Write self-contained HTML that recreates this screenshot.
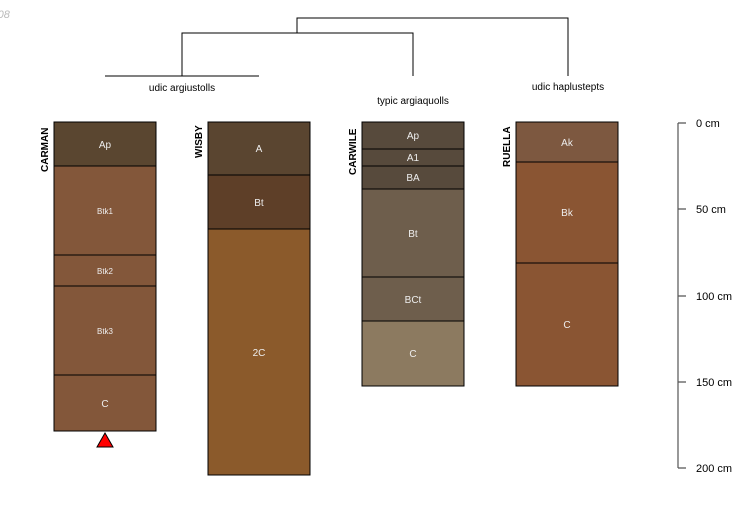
<!DOCTYPE html>
<html><head><style>body{margin:0;background:#fff}</style></head><body>
<svg width="750" height="500" xmlns="http://www.w3.org/2000/svg" font-family="Liberation Sans, sans-serif">
<text x="-6" y="18" font-size="11" fill="#bbb" font-style="italic">-08</text>
<g stroke="#000" stroke-width="1" fill="none">
<path d="M297 33V18H568V76"/>
<path d="M182 76V33H413V76"/>
<path d="M105 76H259"/>
</g>
<g font-size="10" fill="#000" text-anchor="middle">
<text x="182" y="91">udic argiustolls</text>
<text x="413" y="104">typic argiaquolls</text>
<text x="568" y="90">udic haplustepts</text>
</g>
<g stroke="#000" stroke-width="1">
<rect x="54" y="122" width="102" height="44" fill="#5a4630"/>
<rect x="54" y="166" width="102" height="89" fill="#83573a"/>
<rect x="54" y="255" width="102" height="31" fill="#83573a"/>
<rect x="54" y="286" width="102" height="89" fill="#83573a"/>
<rect x="54" y="375" width="102" height="56" fill="#83573a"/>
<rect x="208" y="122" width="102" height="53" fill="#5a4530"/>
<rect x="208" y="175" width="102" height="54" fill="#5e3f28"/>
<rect x="208" y="229" width="102" height="246" fill="#8b5a2b"/>
<rect x="362" y="122" width="102" height="27" fill="#574a3c"/>
<rect x="362" y="149" width="102" height="17" fill="#574a3c"/>
<rect x="362" y="166" width="102" height="23" fill="#574a3c"/>
<rect x="362" y="189" width="102" height="88" fill="#6e5e4c"/>
<rect x="362" y="277" width="102" height="44" fill="#6e5e4c"/>
<rect x="362" y="321" width="102" height="65" fill="#8c7a60"/>
<rect x="516" y="122" width="102" height="40" fill="#7d5840"/>
<rect x="516" y="162" width="102" height="101" fill="#8a5533"/>
<rect x="516" y="263" width="102" height="123" fill="#8a5533"/>
</g>
<path d="M105 433L97 447H113Z" fill="#f00" stroke="#000"/>
<g fill="#eee" font-size="10" text-anchor="middle">
<text x="105" y="148">Ap</text>
<text x="105" y="214" font-size="8">Btk1</text>
<text x="105" y="274" font-size="8">Btk2</text>
<text x="105" y="334" font-size="8">Btk3</text>
<text x="105" y="407">C</text>
<text x="259" y="152">A</text>
<text x="259" y="206">Bt</text>
<text x="259" y="356">2C</text>
<text x="413" y="139">Ap</text>
<text x="413" y="161">A1</text>
<text x="413" y="181">BA</text>
<text x="413" y="237">Bt</text>
<text x="413" y="303">BCt</text>
<text x="413" y="357">C</text>
<text x="567" y="146">Ak</text>
<text x="567" y="216">Bk</text>
<text x="567" y="328">C</text>
</g>
<g font-size="10" font-weight="bold" fill="#000">
<text transform="translate(48,172) rotate(-90)">CARMAN</text>
<text transform="translate(202,158) rotate(-90)">WISBY</text>
<text transform="translate(356,175) rotate(-90)">CARWILE</text>
<text transform="translate(510,167) rotate(-90)">RUELLA</text>
</g>
<g stroke="#555" stroke-width="1.2" fill="none">
<path d="M678 123V468"/>
<path d="M678 123H686M678 209H686M678 296H686M678 382H686M678 468H686"/>
</g>
<g font-size="11" fill="#000">
<text x="696" y="127">0 cm</text>
<text x="696" y="213">50 cm</text>
<text x="696" y="300">100 cm</text>
<text x="696" y="386">150 cm</text>
<text x="696" y="472">200 cm</text>
</g>
</svg>
</body></html>
